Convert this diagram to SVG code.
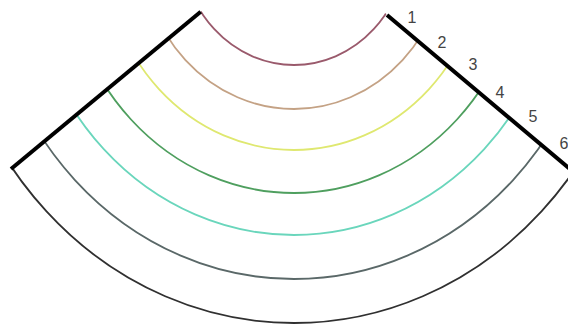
<svg xmlns="http://www.w3.org/2000/svg" width="568" height="327" viewBox="0 0 568 327">
<style>
.arc{fill:none;stroke-width:1.8}
.edge{fill:none;stroke:#000;stroke-width:4;stroke-linejoin:miter;stroke-linecap:butt}
.lbl{font-family:"Liberation Sans","Open Sans",sans-serif;font-size:16px;fill:#444;text-anchor:middle}
</style>
<defs>
<clipPath id="wedge">
<polygon points="292.7,-64.6 -267,400 846,400"/>
</clipPath>
</defs>
<rect width="568" height="327" fill="#fff"/>
<g id="arcs" clip-path="url(#wedge)">
<ellipse class="arc" cx="294" cy="-58" rx="113" ry="123" stroke="#9a5a6c"/>
<ellipse class="arc" cx="294" cy="-58" rx="153.5" ry="167" stroke="#c4a285"/>
<ellipse class="arc" cx="294" cy="-58" rx="191" ry="208" stroke="#dfe870" stroke-width="2.4"/>
<ellipse class="arc" cx="294" cy="-58" rx="230.5" ry="251" stroke="#4f9f5f"/>
<ellipse class="arc" cx="294" cy="-58" rx="269" ry="293" stroke="#6ad6bc" stroke-width="2.2"/>
<ellipse class="arc" cx="294" cy="-58" rx="309.5" ry="337" stroke="#5a6868"/>
<ellipse class="arc" cx="294" cy="-58" rx="350" ry="381" stroke="#303030"/>
</g>
<g id="edges">
<polyline class="edge" points="11,169 200.7,11.7"/>
<polyline class="edge" points="387,15 590,186"/>
</g>
<g id="labels">
<text class="lbl" x="412" y="23">1</text>
<text class="lbl" x="442" y="48">2</text>
<text class="lbl" x="473" y="70">3</text>
<text class="lbl" x="500" y="98">4</text>
<text class="lbl" x="533" y="122">5</text>
<text class="lbl" x="564" y="149">6</text>
</g>
</svg>
